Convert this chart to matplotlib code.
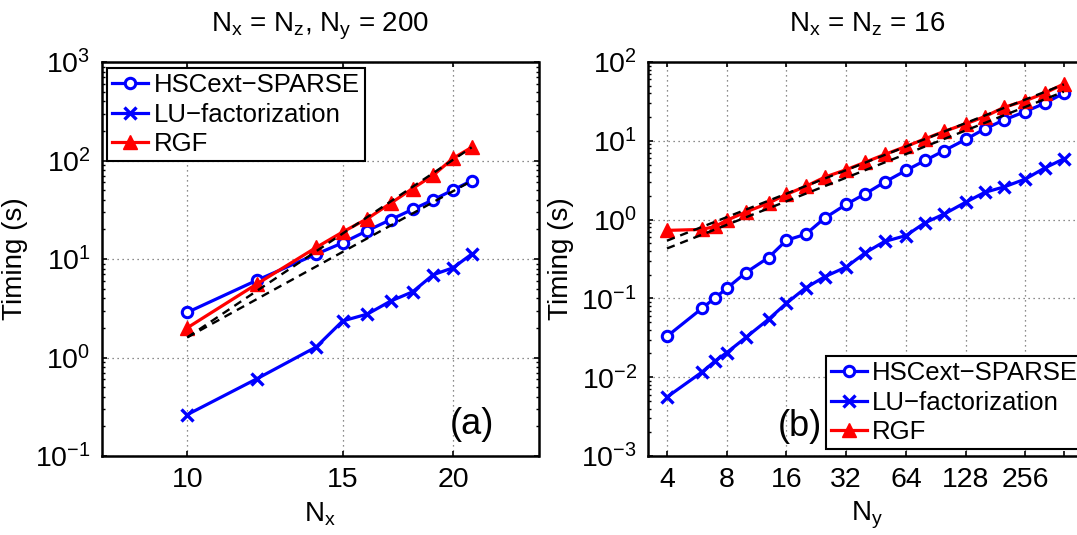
import matplotlib.pyplot as plt
from matplotlib.ticker import FixedLocator, NullLocator, NullFormatter, LogLocator, LogFormatterMathtext

plt.rcParams['font.family'] = 'Liberation Sans'
plt.rcParams['mathtext.fontset'] = 'custom'
plt.rcParams['mathtext.rm'] = 'Liberation Sans'
plt.rcParams['mathtext.it'] = 'Liberation Sans:italic'
plt.rcParams['mathtext.bf'] = 'Liberation Sans:bold'

# (a) timing vs Nx (Nx = Nz, Ny = 200)
nx = [10, 12, 14, 15, 16, 17, 18, 19, 20, 21]
hsc_a = [2.87, 6.1, 11.2, 14.6, 19.4, 25.1, 31.9, 39.9, 50.2, 62.4]
lu_a = [0.263, 0.61, 1.28, 2.35, 2.76, 3.74, 4.64, 6.93, 8.13, 11.2]
rgf_a = [2.0, 5.6, 13.1, 18.8, 25.7, 36.8, 51.9, 71.0, 105.0, 136.0]
# reference slopes (end points)
ref_a_x = [10, 21]
ref_a_hi = [1.6, 136.0]
ref_a_lo = [1.6, 62.0]

# (b) timing vs Ny (Nx = Nz = 16)
ny = [4, 6, 7, 8, 10, 13, 16, 20, 25, 32, 40, 50, 64, 80, 100, 128, 160, 200, 256, 320, 400]
hsc_b = [0.033, 0.0747, 0.102, 0.134, 0.213, 0.33, 0.547, 0.652, 1.05, 1.56, 2.13,
         2.99, 4.2, 5.63, 7.53, 10.4, 14.2, 18.4, 23.5, 29.9, 40.1]
lu_b = [0.0056, 0.0116, 0.0161, 0.0205, 0.032, 0.0544, 0.0869, 0.136, 0.189, 0.25, 0.38,
        0.528, 0.626, 0.914, 1.18, 1.66, 2.22, 2.6, 3.27, 4.51, 5.9]
rgf_b = [0.73, 0.75, 0.82, 0.98, 1.25, 1.62, 2.09, 2.64, 3.46, 4.3, 5.36,
         6.71, 8.47, 10.6, 13.2, 16.4, 20.3, 26.6, 32.3, 40.1, 52.7]
ref_b_x = [4, 400]
ref_b_hi = [0.54, 52.0]
ref_b_lo = [0.43, 42.0]

labels = ['HSCext\u2212SPARSE', 'LU\u2212factorization', 'RGF']

fig = plt.figure(figsize=(10.77, 5.35), dpi=100)
W, H = 1077.0, 535.0
ax_a = fig.add_axes([101.7 / W, 79 / H, 436.8 / W, 394 / H])
ax_b = fig.add_axes([648.3 / W, 79 / H, 436.8 / W, 394 / H])


def draw(ax, x, hsc, lu, rgf, rx, rhi, rlo):
    ax.plot(x, hsc, '-o', color='blue', lw=2.3, ms=7.5, mew=2.2, mfc='white', label=labels[0])
    ax.plot(x, lu, '-x', color='blue', lw=2.3, ms=8, mew=2.4, label=labels[1])
    ax.plot(x, rgf, '-^', color='red', lw=2.3, ms=9.5, mew=1, label=labels[2])
    ax.plot(rx, rhi, '--', color='black', lw=1.7, dashes=(3.5, 2.5))
    ax.plot(rx, rlo, '--', color='black', lw=1.7, dashes=(3.5, 2.5))
    ax.set_xscale('log')
    ax.set_yscale('log')
    ax.yaxis.set_major_locator(LogLocator(base=10))
    ax.yaxis.set_major_formatter(LogFormatterMathtext())
    ax.yaxis.set_minor_locator(LogLocator(base=10, subs=range(2, 10)))
    ax.yaxis.set_minor_formatter(NullFormatter())
    ax.xaxis.set_minor_formatter(NullFormatter())
    ax.grid(True, which='major', linestyle=(0, (1, 3)), color='0.4', lw=0.9)
    ax.tick_params(which='both', direction='in', top=True, right=True, labelsize=20.5)
    ax.tick_params(which='major', length=3.5, width=1.2, pad=8)
    ax.tick_params(which='minor', length=2, width=1)
    for s in ax.spines.values():
        s.set_linewidth(1.8)
    ax.set_ylabel('Timing (s)', fontsize=20, labelpad=5)


def add_legend(ax, loc, anchor):
    leg = ax.legend(loc=loc, bbox_to_anchor=anchor, borderaxespad=0,
                    fontsize=18.5, numpoints=1, handlelength=1.4, handletextpad=0.2,
                    labelspacing=0.22, borderpad=0.2, fancybox=False, framealpha=1,
                    edgecolor='black')
    leg.get_frame().set_linewidth(1.5)


draw(ax_a, nx, hsc_a, lu_a, rgf_a, ref_a_x, ref_a_hi, ref_a_lo)
ax_a.set_xlim(8, 25)
ax_a.set_ylim(0.1, 1000)
ax_a.xaxis.set_major_locator(FixedLocator([10, 15, 20]))
ax_a.set_xticklabels(['10', '15', '20'])
ax_a.xaxis.set_minor_locator(NullLocator())
ax_a.set_xlabel(r'$\mathregular{N_x}$', fontsize=20, labelpad=5)
ax_a.set_title(r'$\mathregular{N_x}$ = $\mathregular{N_z}$, $\mathregular{N_y}$ = 200',
               fontsize=20, pad=22)
ax_a.text(0.848, 0.081, '(a)', transform=ax_a.transAxes, fontsize=26, ha='center', va='center')
add_legend(ax_a, 'upper left', (0.0126, 0.985))

draw(ax_b, ny, hsc_b, lu_b, rgf_b, ref_b_x, ref_b_hi, ref_b_lo)
ax_b.set_xlim(3.22, 512)
ax_b.set_ylim(0.001, 100)
ax_b.xaxis.set_major_locator(FixedLocator([4, 8, 16, 32, 64, 128, 256]))
ax_b.set_xticklabels(['4', '8', '16', '32', '64', '128', '256'])
ax_b.xaxis.set_minor_locator(FixedLocator([400]))
ax_b.tick_params(axis='x', which='minor', length=3.5, width=1.2)
ax_b.set_xlabel(r'$\mathregular{N_y}$', fontsize=20, labelpad=5)
ax_b.set_title(r'$\mathregular{N_x}$ = $\mathregular{N_z}$ = 16', fontsize=20, pad=22)
ax_b.text(0.347, 0.076, '(b)', transform=ax_b.transAxes, fontsize=26, ha='center', va='center')
add_legend(ax_b, 'lower left', (0.407, 0.017))

fig.savefig('out.png', dpi=100)
